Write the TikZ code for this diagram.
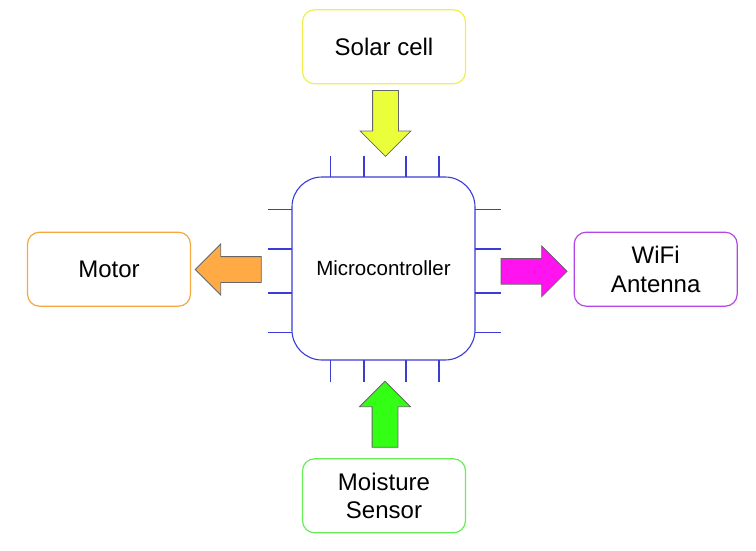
\documentclass[tikz,border=0pt]{standalone}
\usepackage{fontspec}
\setmainfont{Liberation Sans}
\usepackage{tikz}
\usetikzlibrary{positioning,shapes,arrows}

\definecolor{solar}{HTML}{F2EE50}
\definecolor{solarfill}{HTML}{EAFF3A}
\definecolor{motor}{HTML}{F5A742}
\definecolor{motorfill}{HTML}{FFAA44}
\definecolor{wifi}{HTML}{B446E6}
\definecolor{wififill}{HTML}{FF14F0}
\definecolor{moist}{HTML}{66EE55}
\definecolor{moistfill}{HTML}{33FF14}
\definecolor{chip}{HTML}{3B3BD6}

\begin{document}
\begin{tikzpicture}[x=1pt, y=-1pt,
		box/.style={draw, rounded corners=12pt, line width=1.2pt, minimum width=163pt, minimum height=74pt, align=center, font=\fontsize{24}{28.5}\selectfont},
		blockarrow/.style={single arrow, draw=black!60, line width=0.8pt, inner sep=0pt, text height=25pt, text depth=0pt, minimum height=66pt, single arrow head extend=12.5pt, anchor=tail}]
		\useasboundingbox (0,0) rectangle (756,550);
		% chip
		\node[draw=chip, line width=1.1pt, rounded corners=30pt, minimum size=183pt, font=\fontsize{20.5}{24}\selectfont] (mcu) at (383.5, 268.5) {Microcontroller};
		\foreach \x in {330.7, 364, 406, 439} {
			\draw[chip, line width=1.1pt] (\x, 177) -- (\x, 156);
			\draw[chip, line width=1.1pt] (\x, 360) -- (\x, 382);
		}
		\foreach \y in {209.3, 249, 293, 332.7} {
			\draw[chip, line width=1.1pt] (292, \y) -- (267.5, \y);
			\draw[chip, line width=1.1pt] (475, \y) -- (500.5, \y);
		}
		% outer blocks
		\node[box, draw=solar] (solar) at (384, 46.8) {Solar cell};
		\node[box, draw=motor] (motor) at (109, 269.2) {Motor};
		\node[box, draw=wifi] (wifi) at (655.7, 269.2) {WiFi\\Antenna};
		\node[box, draw=moist] (moist) at (384, 495.8) {Moisture\\Sensor};
		% block arrows
		\node[blockarrow, fill=solarfill, rotate=-90] (solarin) at (385.5, 90) {};
		\node[blockarrow, fill=motorfill, rotate=180] (motorout) at (261.7, 269.5) {};
		\node[blockarrow, fill=wififill] (wifiout) at (500.7, 271.3) {};
		\node[blockarrow, fill=moistfill, rotate=90] (moistin) at (385, 447.7) {};
	\end{tikzpicture}
\end{document}
